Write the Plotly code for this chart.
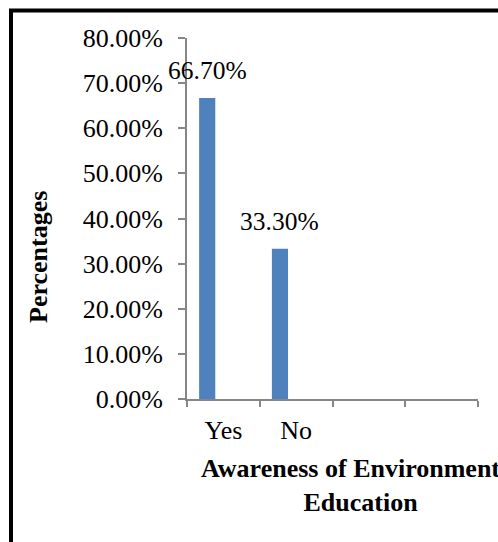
import plotly.graph_objects as go

categories = ["Yes", "No", " ", "  "]
bar_categories = ["Yes", "No"]
values = [0.667, 0.333]
label_texts = ["66.70%", "33.30%"]
y_ticks = [0, 0.1, 0.2, 0.3, 0.4, 0.5, 0.6, 0.7, 0.8]

FONT = "Liberation Serif, Times New Roman, serif"
BAR_COLOR = "#4F81BD"
AXIS_COLOR = "#868686"

# Excel-style clustered layout (3 series slots, gap 150%): first-series bar
bar_width = 1 / 4.5
bar_offset = -0.5 + 0.75 * bar_width

fig = go.Figure()
fig.add_trace(go.Bar(
    x=bar_categories, y=values,
    marker=dict(color=BAR_COLOR, line=dict(width=0)),
    width=bar_width, offset=bar_offset,
    hoverinfo="skip",
))

for i, (v, t) in enumerate(zip(values, label_texts)):
    fig.add_annotation(
        x=i + bar_offset + bar_width / 2, y=v, xref="x", yref="y",
        text=t, showarrow=False, yanchor="bottom", yshift=11,
        font=dict(family=FONT, size=25.5, color="black"),
    )

L, R, T, B = 187, 20, 38, 143
W, H = 498, 542
pw, ph = W - L - R, H - T - B

def px(xp):
    return (xp - L) / pw

def py(yp):
    return (H - B - yp) / ph

# y-axis title
fig.add_annotation(
    x=px(38), y=py(257), xref="paper", yref="paper",
    text="<b>Percentages</b>", textangle=-90, showarrow=False,
    font=dict(family=FONT, size=26, color="black"),
    xanchor="center", yanchor="middle",
)
# x-axis title
fig.add_annotation(
    x=px(360), y=py(485), xref="paper", yref="paper",
    text="<b>Awareness of Environmental<br>Education</b>", showarrow=False,
    font=dict(family=FONT, size=26, color="black"),
    xanchor="center", yanchor="middle", align="center",
)

# outer chart border (cropped at right and bottom)
fig.add_shape(
    type="rect", xref="paper", yref="paper",
    x0=px(11), x1=px(560), y0=py(600), y1=py(10.5),
    line=dict(color="black", width=4), fillcolor="rgba(0,0,0,0)",
    layer="above",
)

fig.update_layout(
    width=W, height=H,
    margin=dict(l=L, r=R, t=T, b=B, pad=0),
    plot_bgcolor="white", paper_bgcolor="white",
    showlegend=False,
    font=dict(family=FONT, size=26, color="black"),
    xaxis=dict(
        type="category", categoryorder="array", categoryarray=categories,
        range=[-0.5, 3.5], tickson="boundaries",
        showline=True, linecolor=AXIS_COLOR, linewidth=2,
        ticks="outside", ticklen=6, tickcolor=AXIS_COLOR, tickwidth=2,
        showgrid=False, zeroline=False,
        tickfont=dict(family=FONT, size=26, color="black"),
        ticklabelstandoff=7,
    ),
    yaxis=dict(
        range=[0, 0.8], tickvals=y_ticks, tickformat=".2%",
        showline=True, linecolor=AXIS_COLOR, linewidth=2,
        ticks="outside", ticklen=7, tickcolor=AXIS_COLOR, tickwidth=2,
        showgrid=False, zeroline=False,
        tickfont=dict(family=FONT, size=26, color="black"),
        ticklabelstandoff=10,
    ),
)

fig.write_html("out.html")
